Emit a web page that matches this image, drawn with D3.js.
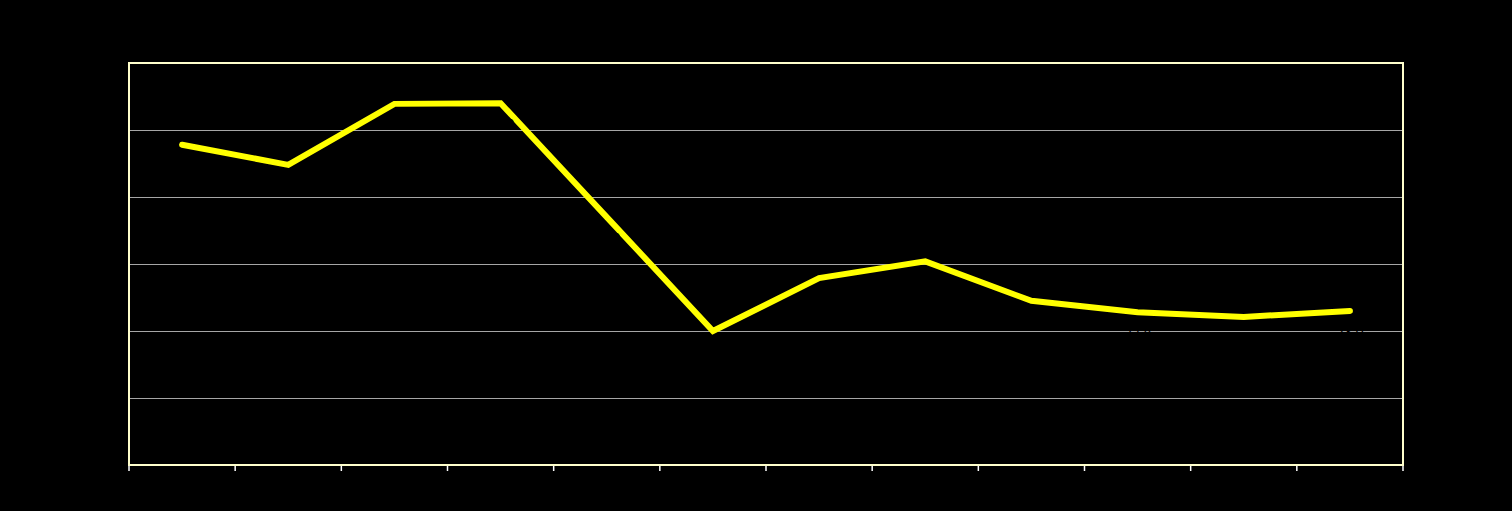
<!DOCTYPE html>
<html>
<head>
<meta charset="utf-8">
<script src="https://cdn.jsdelivr.net/npm/d3@7"></script>
<style>
  html, body { margin: 0; padding: 0; background: #000; }
  svg { display: block; }
</style>
</head>
<body>
<svg width="1512" height="511"></svg>
<script>
// Data
const categories = ["Jan", "Feb", "Mar", "Apr", "May", "Jun", "Jul", "Aug", "Sep", "Oct", "Nov", "Dec"];
const values = [47.8, 44.8, 53.9, 54.0, 37.0, 20.0, 27.9, 30.4, 24.5, 22.8, 22.1, 23.0];
const yTicks = [0, 10, 20, 30, 40, 50, 60];

// SVG plotting related variables.
const svg = d3.select("svg");
const margin = { top: 63, right: 109, bottom: 46, left: 129 };
const width = +svg.attr("width");
const height = +svg.attr("height");
const plotWidth = width - margin.left - margin.right;
const plotHeight = height - margin.top - margin.bottom;

svg.append("rect").attr("width", width).attr("height", height).attr("fill", "#000");

const g = svg.append("g").attr("transform", `translate(${margin.left},${margin.top})`);

// Scales
const xScale = d3.scaleBand().domain(categories).range([0, plotWidth]);
const yScale = d3.scaleLinear().domain([0, 60]).range([plotHeight, 0]);

// Gridlines (snapped to pixel centres so they stay crisp)
g.append("g")
 .selectAll("line")
 .data(yTicks.slice(1, -1))
 .join("line")
 .attr("x1", 0).attr("x2", plotWidth)
 .attr("y1", d => Math.round(yScale(d)) + 0.5).attr("y2", d => Math.round(yScale(d)) + 0.5)
 .attr("stroke", "#a6a6a6")
 .attr("stroke-width", 1);

// Y axis (black labels and ticks, as in the original)
const yAxis = g.append("g")
 .call(d3.axisLeft(yScale).tickValues(yTicks).tickSize(4));
yAxis.select(".domain").remove();
yAxis.selectAll("line").attr("stroke", "#000");
yAxis.selectAll("text").attr("fill", "#000").style("font-family", "Arial").style("font-size", "13px");

// X axis
const xAxis = g.append("g")
 .attr("transform", `translate(0,${plotHeight})`)
 .call(d3.axisBottom(xScale).tickSize(0));
xAxis.select(".domain").remove();
xAxis.selectAll("text").attr("fill", "#000").attr("dy", "1.2em").style("font-family", "Arial").style("font-size", "13px");

// X tick marks at category boundaries
const bounds = categories.map(c => xScale(c)).concat([plotWidth]);
g.append("g")
 .selectAll("line")
 .data(bounds)
 .join("line")
 .attr("x1", d => d).attr("x2", d => d)
 .attr("y1", plotHeight).attr("y2", plotHeight + 6)
 .attr("stroke", "#ffffff")
 .attr("stroke-width", 1.5);

// Plot border
g.append("rect")
 .attr("x", 0).attr("y", 0)
 .attr("width", plotWidth).attr("height", plotHeight)
 .attr("fill", "none")
 .attr("stroke", "#ffffcc")
 .attr("stroke-width", 2);

// Line
const line = d3.line()
 .x((d, i) => xScale(categories[i]) + xScale.bandwidth() / 2)
 .y(d => yScale(d));

g.append("path")
 .datum(values)
 .attr("d", line)
 .attr("fill", "none")
 .attr("stroke", "#ffff00")
 .attr("stroke-width", 6)
 .attr("stroke-linecap", "round")
 .attr("stroke-linejoin", "miter");

// Data labels (black, as in the original)
g.append("g")
 .selectAll("text")
 .data(values)
 .join("text")
 .attr("x", (d, i) => xScale(categories[i]) + xScale.bandwidth() / 2)
 .attr("y", d => yScale(d) + 26)
 .attr("text-anchor", "middle")
 .attr("fill", "#000")
 .style("font-family", "Arial")
 .style("font-size", "14px")
 .text(d => d.toFixed(1));
</script>
</body>
</html>
